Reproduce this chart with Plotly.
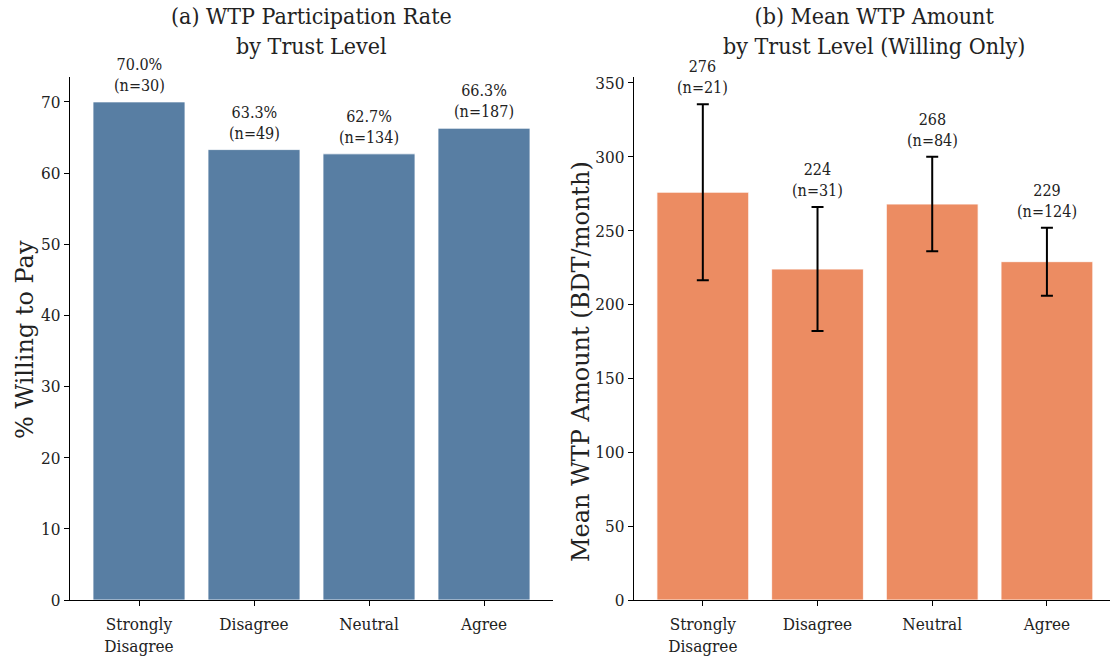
import plotly.graph_objects as go

categories = ["Strongly<br>Disagree", "Disagree", "Neutral", "Agree"]
participation_pct = [70.0, 63.3, 62.7, 66.3]
participation_n = [30, 49, 134, 187]
mean_wtp = [276, 224, 268, 229]
wtp_err = [59.5, 42, 32, 23]
wtp_n = [21, 31, 84, 124]

W, H = 1110, 657
BLUE = "#587ea3"
ORANGE = "#ec8c62"
COND = "DejaVu Serif Condensed, DejaVu Serif, serif"
SERIF = "DejaVu Serif, serif"

def px(x):
    return x / W

def py(y):
    return 1 - y / H

fig = go.Figure()
fig.add_trace(go.Bar(
    x=categories, y=participation_pct, xaxis="x", yaxis="y",
    marker=dict(color=BLUE, line=dict(color="rgba(255,255,255,0.8)", width=1)),
    width=0.8, showlegend=False, hoverinfo="skip"))
fig.add_trace(go.Bar(
    x=categories, y=mean_wtp, xaxis="x2", yaxis="y2",
    marker=dict(color=ORANGE, line=dict(color="rgba(255,255,255,0.8)", width=1)),
    width=0.8, showlegend=False, hoverinfo="skip",
    error_y=dict(type="data", array=wtp_err, visible=True, color="black", thickness=2, width=6)))

axis_common = dict(showline=True, linecolor="black", linewidth=1.2, ticks="outside",
                   ticklen=5, tickcolor="black", tickwidth=1.2, showgrid=False, zeroline=False,
                   automargin=False,
                   tickfont=dict(family=COND, size=17, color="#222"))
xaxis_extra = dict(ticklabelstandoff=3)

ydom = [py(600), py(77)]
fig.update_layout(
    width=W, height=H, margin=dict(l=0, r=0, t=0, b=0, autoexpand=False),
    plot_bgcolor="white", paper_bgcolor="white", bargap=0.2,
    xaxis=dict(domain=[px(70), px(553)], range=[-0.6, 3.6], anchor="y", **axis_common, **xaxis_extra),
    yaxis=dict(domain=ydom, range=[0, 73.5], anchor="x", tickvals=[0, 10, 20, 30, 40, 50, 60, 70], **axis_common),
    xaxis2=dict(domain=[px(634), 1.0], range=[-0.6, 3.55], anchor="y2", **axis_common, **xaxis_extra),
    yaxis2=dict(domain=ydom, range=[0, 354], anchor="x2", tickvals=[0, 50, 100, 150, 200, 250, 300, 350], **axis_common),
)

annotations = []
for c, v, n in zip(categories, participation_pct, participation_n):
    annotations.append(dict(x=c, y=v, xref="x", yref="y", text=f"{v:.1f}%<br>(n={n})",
                            showarrow=False, yanchor="bottom", yshift=5,
                            font=dict(family=COND, size=16, color="#222")))
for c, v, e, n in zip(categories, mean_wtp, wtp_err, wtp_n):
    annotations.append(dict(x=c, y=v + e, xref="x2", yref="y2", text=f"{v}<br>(n={n})",
                            showarrow=False, yanchor="bottom", yshift=5,
                            font=dict(family=COND, size=16, color="#222")))

annotations.append(dict(x=px(311), y=py(1), xref="paper", yref="paper",
                        text="(a) WTP Participation Rate<br>by Trust Level", showarrow=False,
                        xanchor="center", yanchor="top", font=dict(family=COND, size=23, color="#222")))
annotations.append(dict(x=px(874), y=py(1), xref="paper", yref="paper",
                        text="(b) Mean WTP Amount<br>by Trust Level (Willing Only)", showarrow=False,
                        xanchor="center", yanchor="top", font=dict(family=COND, size=23, color="#222")))
annotations.append(dict(x=px(25), y=py(340), xref="paper", yref="paper", text="% Willing to Pay",
                        textangle=-90, showarrow=False, xanchor="center", yanchor="middle",
                        font=dict(family=SERIF, size=24, color="#222")))
annotations.append(dict(x=px(581), y=py(362), xref="paper", yref="paper", text="Mean WTP Amount (BDT/month)",
                        textangle=-90, showarrow=False, xanchor="center", yanchor="middle",
                        font=dict(family=SERIF, size=24, color="#222")))
fig.update_layout(annotations=annotations)

post = """
document.body.style.margin = '0';
"""
fig.write_html("out.html", post_script=post, config={"displayModeBar": False})
